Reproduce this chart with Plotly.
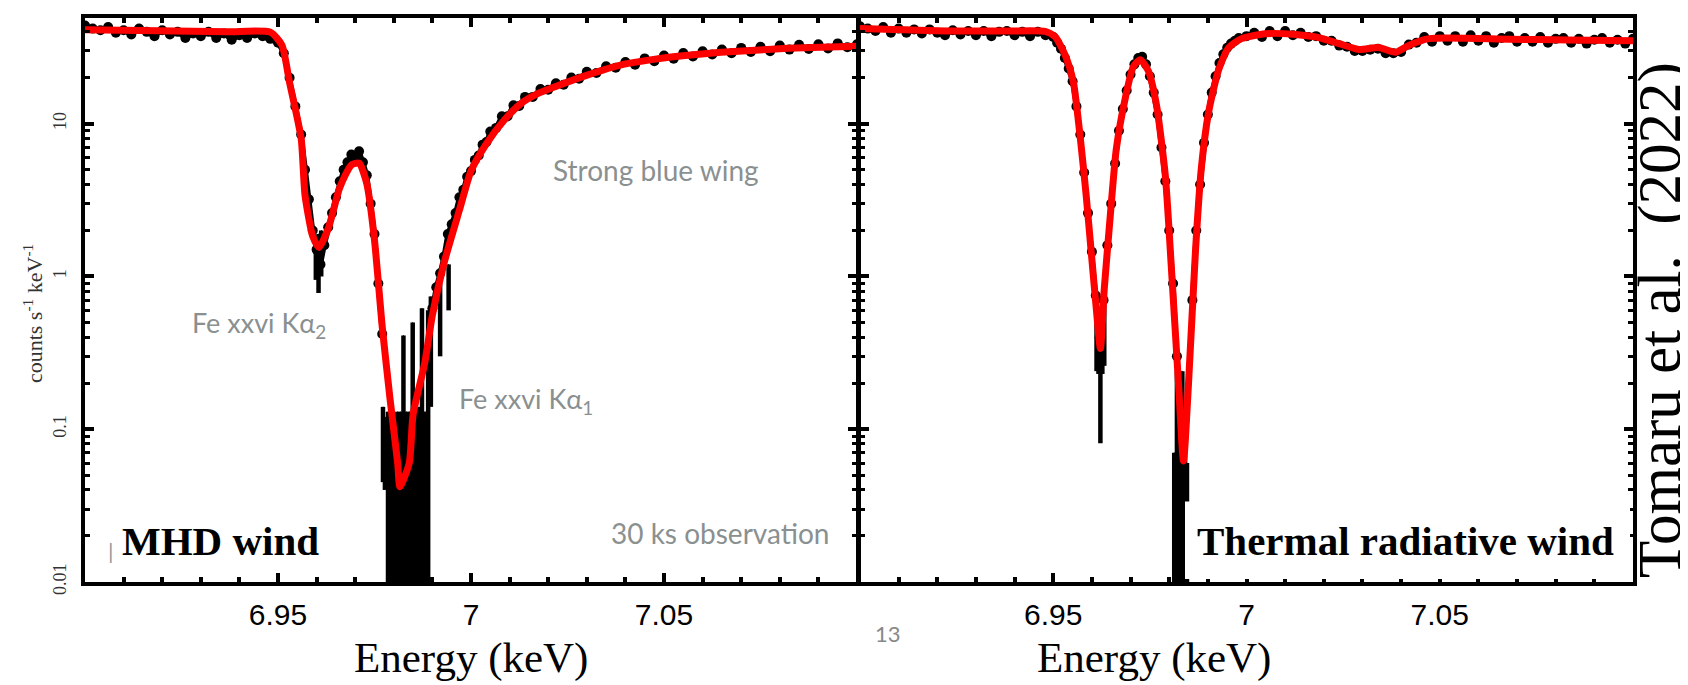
import plotly.graph_objects as go

W, H = 1688, 685

# ---------------- data: MHD wind (left panel) ----------------
mhd_model_E = [6.900, 6.919, 6.937, 6.948, 6.951, 6.953, 6.956, 6.957, 6.959, 6.9606,
               6.963, 6.966, 6.969, 6.971, 6.973, 6.975, 6.977, 6.979, 6.981, 6.9816,
               6.984, 6.985, 6.988, 6.990, 6.993, 6.997, 7.000, 7.004, 7.0088, 7.013,
               7.0174, 7.0218, 7.0303, 7.0389, 7.0477, 7.0562, 7.0648, 7.0736, 7.0821,
               7.0907, 7.100]
mhd_model_cts = [41.3, 40.6, 40.1, 39.8, 32.8, 18.6, 8.0, 3.4, 1.83, 1.55,
                 2.05, 3.82, 5.37, 5.52, 4.05, 1.73, 0.47, 0.16, 0.06, 0.042,
                 0.06, 0.125, 0.27, 0.558, 1.22, 2.72, 4.9, 7.4, 10.7, 13.6,
                 15.8, 17.5, 20.9, 24.3, 26.5, 28.1, 29.4, 30.3, 31.2, 31.7, 32.2]

# None marks the empty-count gap inside the Ka1 trough
mhd_data_E = [6.900, 6.902, 6.904, 6.906, 6.908, 6.910, 6.912, 6.914, 6.916, 6.918,
              6.920, 6.922, 6.924, 6.926, 6.928, 6.930, 6.932, 6.934, 6.936, 6.938,
              6.940, 6.942, 6.944, 6.946, 6.948, 6.950, 6.9515, 6.953, 6.9545, 6.956,
              6.957, 6.958, 6.959, 6.960, 6.961, 6.962, 6.963, 6.964, 6.965, 6.966,
              6.967, 6.968, 6.969, 6.970, 6.971, 6.972, 6.973, 6.974, 6.975, 6.976,
              6.977, 6.983,
              6.990, 6.991, 6.992, 6.993, 6.994, 6.995, 6.996, 6.997, 6.998, 6.999,
              7.000, 7.001, 7.002, 7.003, 7.004, 7.005, 7.0065, 7.008, 7.0095, 7.011,
              7.0125, 7.014, 7.016, 7.018, 7.020, 7.022, 7.024, 7.026, 7.028, 7.030,
              7.0325, 7.035, 7.0375, 7.040, 7.0425, 7.045, 7.0475, 7.050, 7.0525, 7.055,
              7.0575, 7.060, 7.0625, 7.065, 7.0675, 7.070, 7.0725, 7.075, 7.0775, 7.080,
              7.0825, 7.085, 7.0875, 7.090, 7.0925, 7.095, 7.0975, 7.100]
mhd_data_cts = [44, 42, 41, 43, 39.5, 41, 38.5, 42, 40, 37.5,
                41, 38.5, 40, 36.5, 39, 37.5, 40, 36.5, 39, 35.5,
                38, 36.5, 39, 37.5, 36, 34, 29, 20, 13, 8.5,
                5.0, 3.2, 2.0, 1.5, 1.2, 1.6, 2.1, 2.6, 3.3, 4.2,
                5.0, 5.6, 6.3, 6.0, 6.6, 5.6, 4.6, 3.0, 1.9, 0.9,
                0.42, None,
                0.62, 0.85, 1.05, 1.35, 1.9, 2.2, 2.6, 3.3, 3.7, 4.5,
                4.9, 5.8, 6.2, 7.3, 7.6, 8.9, 9.4, 11.2, 11.2, 13.2,
                13.1, 15.0, 15.0, 16.9, 16.7, 18.4, 18.0, 20.1, 19.7, 21.9,
                21.5, 23.8, 23.3, 25.4, 24.4, 26.8, 25.7, 28.0, 26.7, 29.1,
                27.6, 29.8, 28.4, 30.6, 29.0, 31.4, 29.5, 31.9, 29.9, 32.5,
                30.6, 32.9, 30.9, 33.2, 31.1, 33.6, 31.7, 33.2]

# error bars reaching far from the model (top / bottom of each bar)
mhd_bar_E = [6.9598, 6.9605, 6.9612, 6.9772, 6.9777,
             6.9785, 6.9793, 6.9801, 6.9809, 6.9817, 6.9825, 6.9833, 6.9841,
             6.9849, 6.9857, 6.9865, 6.9873, 6.9881, 6.9889, 6.9896, 6.9920, 6.9942]
mhd_bar_hi = [1.6, 1.9, 2.0, 0.14, 0.12,
              0.13, 0.13, 0.12, 0.13, 0.13, 0.41, 0.13, 0.13,
              0.50, 0.13, 0.14, 0.62, 0.13, 0.60, 0.74, 0.90, 1.2]
mhd_bar_lo = [0.95, 0.78, 1.0, 0.045, 0.04,
              0.005, 0.005, 0.005, 0.005, 0.005, 0.005, 0.005, 0.005,
              0.005, 0.005, 0.005, 0.005, 0.005, 0.005, 0.14, 0.30, 0.60]

# ---------------- data: thermal radiative wind (right panel) ----------------
thr_model_E = [6.900, 6.9228, 6.9383, 6.9479, 6.9505, 6.9531, 6.9552, 6.9570, 6.9585,
               6.9598, 6.9611, 6.9622, 6.9632, 6.9648, 6.9663, 6.9687, 6.9707, 6.9725,
               6.9746, 6.9767, 6.9790, 6.9806, 6.9824, 6.9837, 6.9850, 6.9868, 6.9883,
               6.9902, 6.9927, 6.9953, 6.9987, 7.0049, 7.0120, 7.0187, 7.0238, 7.0290,
               7.0342, 7.0386, 7.0420, 7.0472, 7.0679, 7.0834, 7.100]
thr_model_cts = [42.0, 40.5, 40.5, 40.3, 37.2, 28.1, 18.8, 8.05, 3.44,
                 1.47, 0.63, 0.338, 0.83, 2.58, 6.8, 15.0, 23.6, 26.3,
                 22.2, 13.3, 4.56, 1.10, 0.20, 0.062, 0.20, 1.47, 5.09,
                 11.9, 22.2, 31.3, 36.1, 38.9, 38.6, 36.7, 33.6, 30.7,
                 31.6, 29.4, 32.6, 36.1, 35.8, 35.4, 35.0]

thr_data_E = [6.900, 6.902, 6.904, 6.906, 6.908, 6.910, 6.912, 6.914, 6.916, 6.918,
              6.920, 6.922, 6.924, 6.926, 6.928, 6.930, 6.932, 6.934, 6.936, 6.938,
              6.940, 6.942, 6.944, 6.946, 6.948, 6.950, 6.951, 6.952, 6.953, 6.954,
              6.955, 6.956, 6.957, 6.958, 6.959, 6.960, 6.961, 6.962, 6.963, 6.964,
              6.965, 6.966, 6.967, 6.968, 6.969, 6.970, 6.971, 6.972, 6.973, 6.974,
              6.975, 6.976, 6.977, 6.978, 6.979, 6.980, 6.981, 6.982, 6.984,
              6.986, 6.987, 6.988, 6.989, 6.990, 6.991, 6.992, 6.993, 6.994, 6.995,
              6.996, 6.997, 6.998, 7.000, 7.002, 7.004, 7.006, 7.008, 7.010, 7.012,
              7.014, 7.016, 7.018, 7.020, 7.022, 7.024, 7.026, 7.028, 7.030, 7.032,
              7.034, 7.036, 7.038, 7.040, 7.042, 7.044, 7.046, 7.048, 7.050, 7.052,
              7.054, 7.056, 7.058, 7.060, 7.062, 7.064, 7.066, 7.068, 7.070, 7.072,
              7.074, 7.076, 7.078, 7.080, 7.082, 7.084, 7.086, 7.088, 7.090, 7.092,
              7.094, 7.096, 7.098, 7.100]
thr_data_cts = [43.5, 42, 40.5, 43, 39.5, 42, 39.5, 41.5, 39, 41.5,
                39.5, 38, 41, 38.5, 40.5, 38, 40.5, 37.5, 40, 40.5,
                38, 40, 37.5, 40, 38, 37, 34, 31, 27, 23,
                19, 13, 8.5, 4.8, 2.6, 1.45, 0.75, 0.4, 0.7, 1.6,
                3.0, 5.5, 9.0, 12.5, 16.5, 21, 24.5, 27, 27.5, 24.5,
                20.5, 16, 11.5, 7.0, 4.2, 2.0, 0.9, 0.3, None,
                0.7, 2.0, 4.0, 7.5, 11.5, 16, 20.5, 25, 28.5, 31.5,
                33.5, 35, 36.5, 37.5, 39.5, 37, 40.5, 37.5, 40.5, 38,
                39.5, 37, 37.5, 35, 35, 32.5, 32, 30, 30, 30.5,
                31, 29, 29, 29.5, 33, 34, 37, 34.5, 37.5, 35,
                37.5, 34.5, 38, 35, 37.5, 34, 36.5, 37.5, 34.5, 36.5,
                34.5, 37, 34, 36, 36.5, 34, 36, 33.5, 35.5, 36.5,
                34, 35.5, 33.5, 36]

thr_bar_E = [6.9612, 6.9617, 6.9622, 6.9627, 6.9632,
             6.9813, 6.9820, 6.9827, 6.9834, 6.9841, 6.9846]
thr_bar_hi = [0.70, 0.63, 0.60, 0.62, 0.75,
              0.07, 0.24, 0.24, 0.24, 0.07, 0.06]
thr_bar_lo = [0.24, 0.23, 0.081, 0.23, 0.26,
              0.005, 0.005, 0.005, 0.005, 0.005, 0.005]

x_tick_vals = [6.95, 7.0, 7.05]
x_tick_text = ["6.95", "7", "7.05"]
y_tick_vals = [0.01, 0.1, 1, 10]
y_tick_text = ["0.01", "0.1", "1", "10"]
y_minor_vals = [0.02, 0.03, 0.04, 0.05, 0.06, 0.07, 0.08, 0.09,
                0.2, 0.3, 0.4, 0.5, 0.6, 0.7, 0.8, 0.9,
                2, 3, 4, 5, 6, 7, 8, 9, 20, 30, 40]

# ---------------- figure ----------------
def px_x(p):
    return p / W

def px_y(p):
    return (H - p) / H

fig = go.Figure()

def add_panel(E, cts, bE, bhi, blo, mE, mcts, xa, ya):
    fig.add_trace(go.Scatter(
        x=bE, y=bhi, xaxis=xa, yaxis=ya, mode="markers",
        marker=dict(size=1, color="black"),
        error_y=dict(type="data", symmetric=False, array=[0] * len(bE),
                     arrayminus=[h - l for h, l in zip(bhi, blo)],
                     color="black", thickness=4.5, width=0),
        hoverinfo="skip", showlegend=False))
    fig.add_trace(go.Scatter(
        x=E, y=cts, xaxis=xa, yaxis=ya, mode="lines+markers",
        line=dict(color="black", width=5), connectgaps=False,
        marker=dict(size=10, color="black"),
        showlegend=False))
    fig.add_trace(go.Scatter(
        x=mE, y=mcts, xaxis=xa, yaxis=ya, mode="lines",
        line=dict(color="#ff0000", width=7, shape="spline", smoothing=0.6),
        showlegend=False))

add_panel(mhd_data_E, mhd_data_cts, mhd_bar_E, mhd_bar_hi, mhd_bar_lo,
          mhd_model_E, mhd_model_cts, "x", "y")
add_panel(thr_data_E, thr_data_cts, thr_bar_E, thr_bar_hi, thr_bar_lo,
          thr_model_E, thr_model_cts, "x2", "y2")

y_dom = [px_y(585), px_y(10)]
common_x = dict(range=[6.9, 7.1], tickmode="array", tickvals=x_tick_vals,
                ticktext=x_tick_text, ticks="inside", ticklen=9, tickwidth=4,
                tickcolor="black", showline=True, linecolor="black", linewidth=4,
                mirror="allticks", showgrid=False, zeroline=False,
                tickfont=dict(family="Liberation Sans, Arial", size=30, color="black"),
                ticklabelstandoff=3,
                minor=dict(dtick=0.01, tick0=6.9, ticks="inside", ticklen=5,
                           tickwidth=4, tickcolor="black", showgrid=False))
common_y = dict(type="log", range=[-2, 1.694], tickmode="array", tickvals=y_tick_vals,
                ticktext=y_tick_text, ticks="inside", ticklen=9, tickwidth=4,
                tickcolor="black", showline=True, linecolor="black", linewidth=4,
                mirror="allticks", showgrid=False, zeroline=False, domain=y_dom,
                minor=dict(tickmode="array", tickvals=y_minor_vals, ticks="inside",
                           ticklen=5, tickwidth=3, tickcolor="black", showgrid=False))

fig.update_layout(
    width=W, height=H, margin=dict(l=0, r=0, t=0, b=0),
    paper_bgcolor="white", plot_bgcolor="white", showlegend=False,
    xaxis=dict(domain=[px_x(77), px_x(849)], anchor="y", **common_x),
    xaxis2=dict(domain=[px_x(852), px_x(1625)], anchor="y2", **common_x),
    yaxis=dict(anchor="x", tickangle=-90, ticklabelstandoff=8,
               tickfont=dict(family="Liberation Serif", size=18, color="#333"),
               **common_y),
    yaxis2=dict(anchor="x2", showticklabels=False, **common_y),
)

gray = "#8a9090"
ann = [
    dict(text="Energy (keV)", x=px_x(463), y=px_y(663),
         font=dict(family="Liberation Serif", size=43, color="black")),
    dict(text="Energy (keV)", x=px_x(1146), y=px_y(663),
         font=dict(family="Liberation Serif", size=43, color="black")),
    dict(text="counts s<sup>-1</sup> keV<sup>-1</sup>", x=px_x(25), y=px_y(312),
         textangle=-90, font=dict(family="Liberation Serif", size=22, color="#333")),
    dict(text="Tomaru et al.  (2022)", x=px_x(1652), y=px_y(318), textangle=-90,
         font=dict(family="Liberation Serif", size=61, color="black")),
    dict(text="Strong blue wing", x=px_x(648), y=px_y(165),
         font=dict(family="Lato", size=28, color=gray)),
    dict(text="Fe xxvi Kα<sub>2</sub>", x=px_x(251), y=px_y(323),
         font=dict(family="Lato", size=27, color=gray)),
    dict(text="Fe xxvi Kα<sub>1</sub>", x=px_x(518), y=px_y(400),
         font=dict(family="Lato", size=27, color=gray)),
    dict(text="30 ks observation", x=px_x(712), y=px_y(535),
         font=dict(family="Lato", size=28, color=gray)),
    dict(text="13", x=px_x(880), y=px_y(638),
         font=dict(family="Lato", size=22, color="#888")),
    dict(text="|", x=px_x(103), y=px_y(553),
         font=dict(family="Lato", size=22, color="#999")),
    dict(text="<b>MHD wind</b>", x=px_x(212), y=px_y(543),
         font=dict(family="Liberation Serif", size=41, color="black")),
    dict(text="<b>Thermal radiative wind</b>", x=px_x(1397), y=px_y(543),
         font=dict(family="Liberation Serif", size=41, color="black")),
]
for a in ann:
    a.update(xref="paper", yref="paper", showarrow=False, xanchor="center", yanchor="middle")
    fig.add_annotation(**a)

# white box behind the right-hand label
fig.add_shape(type="rect", xref="paper", yref="paper",
              x0=px_x(1177), x1=px_x(1622), y0=px_y(582), y1=px_y(503),
              fillcolor="white", line=dict(width=0), layer="above")

fig.write_html("out.html")
